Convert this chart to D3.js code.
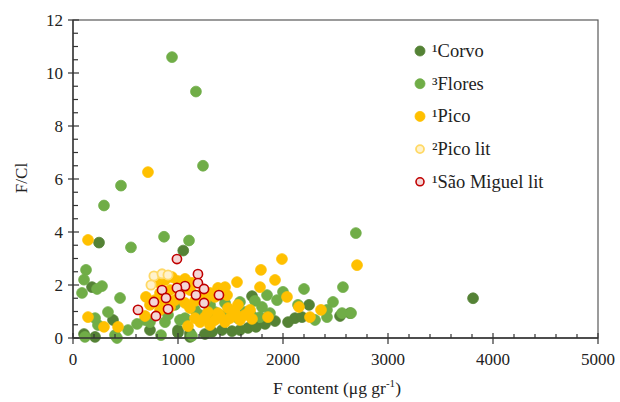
<!DOCTYPE html>
<html>
  <head>
    <meta charset="utf-8">
    <title>F/Cl vs F content</title>
    <script src="https://d3js.org/d3.v7.min.js"></script>
    <style>
    body{margin:0; background:white;}
    svg{display:block; background-color:white;}
    </style>
  </head>
  <body>
    <script>
    // data: [F content, F/Cl]
    var corvo = [[248,3.6],[1050,3.3],[3810,1.5],[181,1.92],[381,0.68],[105,0.15],[210,0.04],
      [733,0.3],[1000,0.3],[1705,1.58],[2248,1.25],[2114,0.75],[2181,0.79],[2048,0.6],[2543,0.83],
      [2638,0.94],[1114,0.19],[1514,0.26],[1590,0.3],[1667,0.38],[1743,0.42],[1829,0.53],[1924,0.64],
      [1419,0.3],[1324,0.23],[1257,0.15],[1000,0.2],[1114,0.04]];
    var flores = [[943,10.6],[1171,9.3],[1238,6.5],[457,5.75],[295,5.0],[2694,3.96],[867,3.82],
      [1105,3.68],[552,3.42],[124,2.57],[105,2.2],[229,1.85],[276,1.96],[86,1.7],[448,1.51],
      [333,0.98],[238,0.49],[210,0.75],[610,0.53],[524,0.3],[400,0.11],[114,0.04],[419,0.0],
      [838,0.11],[1133,0.08],[1848,1.62],[1943,1.43],[2000,1.74],[2200,1.85],[2571,1.92],
      [2143,1.25],[2476,1.36],[2419,1.06],[2305,0.68],[2562,0.94],[2648,0.94],[2419,0.79],
      [1781,0.79],[1800,1.17],[1876,0.94],[1019,0.68],[1210,0.87],[1286,0.75],[1352,0.98],
      [1419,0.83],[1495,0.94],[1571,0.75],[1638,0.98],[1705,0.83],[1067,0.75],[876,0.6],
      [733,0.6],[686,0.68],[1305,1.25],[1448,1.32],[1590,1.36],[1733,1.4],[971,1.25],
      [905,0.87],[1162,1.06]];
    var pico = [[714,6.26],[143,3.7],[2705,2.75],[1990,2.98],[1924,2.19],[1790,2.57],[1781,1.92],
      [1562,2.11],[1467,1.62],[2038,1.55],[2152,1.17],[2362,1.06],[2257,0.79],[1857,0.79],
      [695,1.55],[686,0.83],[143,0.79],[295,0.42],[429,0.42],[1095,0.45],[943,2.3],
      [810,2.11],[876,2.19],[1000,2.15],[1067,2.23],[1133,2.08],[829,1.7],[924,1.81],
      [1019,1.74],[1114,1.81],[1210,1.62],[1305,1.7],[781,1.43],[876,1.36],[971,1.43],
      [1067,1.32],[1162,1.4],[1257,1.43],[1352,1.55],[733,1.25],[924,1.17],[829,1.06],
      [1114,1.13],[1381,1.89],[1448,1.92],[1210,0.6],[1257,0.79],[1305,0.49],[1352,0.68],
      [1400,0.83],[1448,0.6],[1495,0.75],[1543,0.94],[1590,0.68],[1638,0.87],[1686,1.06],
      [1476,1.13],[1571,1.25],[1162,0.75],[1286,0.98],[1381,0.94],[1705,0.72]];
    var picoLit = [[771,2.34],[848,2.42],[743,2.0],[905,2.38]];
    var saoMiguelLit = [[990,2.98],[1190,2.41],[1190,2.07],[1067,1.96],[990,1.89],[1248,1.85],
      [848,1.81],[1019,1.62],[886,1.51],[1171,1.62],[1390,1.62],[1248,1.32],[771,1.36],
      [905,1.09],[619,1.06],[790,0.83]];

    var xTicks = [0,1000,2000,3000,4000,5000];
    var yTicks = [0,2,4,6,8,10,12];
    var legendLabels = ["\u00B9Corvo","\u00B3Flores","\u00B9Pico","\u00B2Pico lit","\u00B9S\u00E3o Miguel lit"];

    var series = [
      {data:corvo, fill:"#548235", stroke:"#548235", sw:0.8},
      {data:flores, fill:"#70AD47", stroke:"#70AD47", sw:0.8},
      {data:pico, fill:"#FFC000", stroke:"#FFC000", sw:0.8},
      {data:picoLit, fill:"#FFF2CC", stroke:"#FFD966", sw:1.8},
      {data:saoMiguelLit, fill:"#F4D7D7", stroke:"#C00000", sw:1.6}
    ];

    var width = 620, height = 402;
    var svg = d3.select("body").append("svg").attr("width", width).attr("height", height)
      .attr("font-family", "'Liberation Serif', 'Times New Roman', 'DejaVu Serif', serif")
      .attr("fill", "#222");

    var x = d3.scaleLinear().domain([0,5000]).range([73,598]);
    var y = d3.scaleLinear().domain([0,12]).range([338,20]);

    // frame
    svg.append("rect").attr("x",73).attr("y",20).attr("width",525).attr("height",318)
      .attr("fill","none").attr("stroke","#595959").attr("stroke-width",1.2);

    // points
    series.forEach(function(s){
      svg.append("g").selectAll("circle")
        .data(s.data)
        .enter()
        .append("circle")
        .attr("cx", function(d){ return x(d[0]); })
        .attr("cy", function(d){ return y(d[1]); })
        .attr("r", s.sw > 1 ? 4.6 : 5.4)
        .attr("fill", s.fill)
        .attr("stroke", s.stroke)
        .attr("stroke-width", s.sw);
    });

    // x axis
    var xAxis = svg.append("g");
    xAxis.append("line").attr("x1",73).attr("x2",598).attr("y1",338).attr("y2",338)
      .attr("stroke","#333").attr("stroke-width",1.3);
    d3.range(0,5001,200).forEach(function(v){
      var major = v % 1000 == 0;
      xAxis.append("line").attr("x1",x(v)).attr("x2",x(v))
        .attr("y1", major ? 333 : 334).attr("y2", major ? 344 : 338)
        .attr("stroke","#333").attr("stroke-width",1.2);
    });
    xAxis.selectAll("text").data(xTicks).enter().append("text")
      .attr("x", function(d){ return x(d); }).attr("y",365)
      .attr("text-anchor","middle").attr("font-size","17px")
      .text(function(d){ return d; });

    // y axis
    var yAxis = svg.append("g");
    yAxis.append("line").attr("x1",73).attr("x2",73).attr("y1",20).attr("y2",338)
      .attr("stroke","#333").attr("stroke-width",1.3);
    d3.range(0,12.01,0.5).forEach(function(v){
      var major = v % 2 == 0;
      yAxis.append("line").attr("x1", major ? 68 : 73).attr("x2", major ? 79 : 78)
        .attr("y1",y(v)).attr("y2",y(v))
        .attr("stroke","#333").attr("stroke-width",1.2);
    });
    yAxis.selectAll("text").data(yTicks).enter().append("text")
      .attr("x",63).attr("y", function(d){ return y(d)+6; })
      .attr("text-anchor","end").attr("font-size","17px")
      .text(function(d){ return d; });

    // axis titles
    svg.append("text").attr("transform","translate(27,178) rotate(-90)")
      .attr("text-anchor","middle").attr("font-size","17px").text("F/Cl");
    var xt = svg.append("text").attr("x",337).attr("y",394)
      .attr("text-anchor","middle").attr("font-size","17.5px");
    xt.append("tspan").text("F content (\u03BCg gr");
    xt.append("tspan").attr("font-size","11px").attr("dy",-7).text("-1");
    xt.append("tspan").attr("dy",7).text(")");

    // legend
    var legend = svg.append("g");
    legendLabels.forEach(function(lab,i){
      var s = series[i];
      var ly = 51 + i*32.7;
      legend.append("circle").attr("cx",420).attr("cy",ly).attr("r", s.sw > 1 ? 4 : 5)
        .attr("fill",s.fill).attr("stroke",s.stroke).attr("stroke-width",s.sw);
      legend.append("text").attr("x",432).attr("y",ly+6).attr("font-size","18.5px").text(lab);
    });
    </script>
  </body>
</html>
